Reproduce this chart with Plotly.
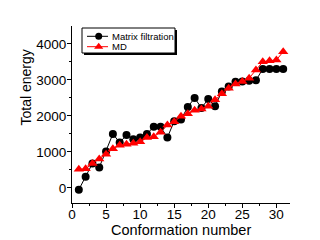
import plotly.graph_objects as go

conformation = list(range(1, 32))
matrix_filtration = [-50, 310, 680, 570, 1010, 1500, 1260, 1470, 1350, 1400, 1500, 1700, 1700, 1400, 1855,
                     1900, 2250, 2500, 2220, 2470, 2270, 2680, 2820, 2950, 2960, 2980, 2990, 3305, 3305, 3305, 3305]
md = [515, 530, 680, 800, 935, 1090, 1185, 1210, 1240, 1280, 1400, 1425, 1550, 1745, 1836,
      1990, 2060, 2160, 2195, 2270, 2450, 2620, 2770, 2890, 2956, 3050, 3280, 3505, 3535, 3555, 3785]
series_names = ["Matrix filtration", "MD"]
series_colors = ["black", "red"]
series_symbols = ["circle", "triangle-up"]
series_sizes = [8, 9]
x_ticks = [0, 5, 10, 15, 20, 25, 30]
y_ticks = [0, 1000, 2000, 3000, 4000]

# page body has an 8px margin; compensate so the plot area sits at x 72..290, y 26..203 on screen
OFF = 8
W, H = 320 - OFF, 240 - OFF
L, R, T, B = 72 - OFF, 30, 26 - OFF, 37
PW, PH = W - L - R, H - T - B
SCR_LEFT, SCR_TOP = L + OFF, T + OFF
SCR_BOTTOM = SCR_TOP + PH

fig = go.Figure()
for vals, name, col, sym, sz in zip([matrix_filtration, md], series_names, series_colors, series_symbols, series_sizes):
    fig.add_trace(go.Scatter(x=conformation, y=vals, mode="lines+markers", name=name,
                             line=dict(color=col, width=1),
                             marker=dict(symbol=sym, size=sz, color=col), showlegend=False))

# custom compact legend (overlay axes measured in pixels of the plot area)
def px(xpix):
    return xpix - SCR_LEFT

def py(ypix):
    return SCR_BOTTOM - ypix

box = (82, 28, 175, 53)
fig.add_shape(type="rect", xref="x2", yref="y2", x0=px(box[0] + 2), x1=px(box[2] + 2),
              y0=py(box[1] + 2), y1=py(box[3] + 2), fillcolor="black", line=dict(width=0), layer="below")
fig.add_shape(type="rect", xref="x2", yref="y2", x0=px(box[0]), x1=px(box[2]),
              y0=py(box[1]), y1=py(box[3]), fillcolor="white", line=dict(color="black", width=1), layer="below")
rows = [36.3, 46.7]
for i, (name, col, sym, sz) in enumerate(zip(series_names, series_colors, series_symbols, series_sizes)):
    yy = py(rows[i])
    fig.add_trace(go.Scatter(x=[px(87), px(98.7), px(108)], y=[yy, yy, yy], mode="lines",
                             line=dict(color=col, width=1), xaxis="x2", yaxis="y2",
                             showlegend=False, hoverinfo="skip"))
    fig.add_trace(go.Scatter(x=[px(98.7)], y=[yy], mode="markers",
                             marker=dict(symbol=sym, size=sz - 1, color=col), xaxis="x2", yaxis="y2",
                             showlegend=False, hoverinfo="skip"))
    fig.add_annotation(x=px(109.5), y=yy, xref="x2", yref="y2", text=name, showarrow=False,
                       xanchor="left", yanchor="middle", font=dict(size=9.5, color="black"))

# axis titles placed as in the reference
fig.add_annotation(x=0.5, y=(SCR_BOTTOM - 230) / PH, xref="paper", yref="paper", text="Conformation number",
                   showarrow=False, xanchor="center", yanchor="middle", font=dict(size=14.5))
fig.add_annotation(x=(25 - SCR_LEFT) / PW, y=(SCR_BOTTOM - 87.5) / PH, xref="paper", yref="paper",
                   text="Total energy", textangle=-90,
                   showarrow=False, xanchor="center", yanchor="middle", font=dict(size=14))

font = "Liberation Sans, Arial, sans-serif"
fig.update_layout(
    width=W, height=H,
    margin=dict(l=L, r=R, t=T, b=B, autoexpand=False),
    plot_bgcolor="white", paper_bgcolor="white",
    font=dict(family=font, size=13, color="black"),
    showlegend=False,
    xaxis2=dict(overlaying="x", range=[0, PW], visible=False, fixedrange=True),
    yaxis2=dict(overlaying="y", range=[0, PH], visible=False, fixedrange=True),
    xaxis=dict(range=[0, 32], tickvals=x_ticks, automargin=False,
               showline=True, linecolor="black", linewidth=1, mirror=False,
               ticks="outside", ticklen=4, tickcolor="black", showgrid=False, zeroline=False,
               minor=dict(tickvals=[2.5, 7.5, 12.5, 17.5, 22.5, 27.5], ticks="outside", ticklen=2, tickcolor="black"),
               tickfont=dict(size=13.5), ticklabelstandoff=-5),
    yaxis=dict(range=[-420, 4500], tickvals=y_ticks, automargin=False,
               showline=True, linecolor="black", linewidth=1, mirror=False,
               ticks="outside", ticklen=4, tickcolor="black", showgrid=False, zeroline=False,
               minor=dict(tickvals=[500, 1500, 2500, 3500], ticks="outside", ticklen=2, tickcolor="black"),
               tickfont=dict(size=13.5), ticklabelstandoff=-2),
)
fig.write_html("out.html")
